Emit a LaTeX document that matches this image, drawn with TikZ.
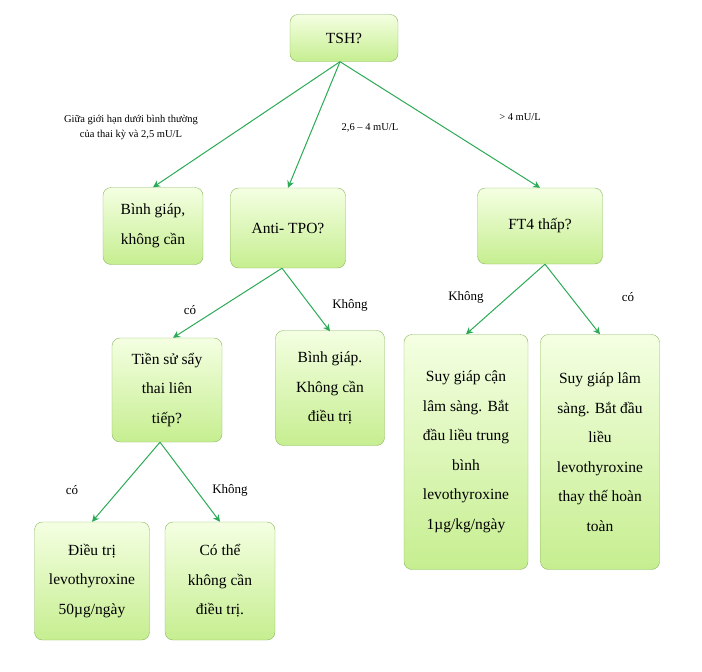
\documentclass[tikz,border=0pt]{standalone}
\usepackage{fontspec}
\setmainfont{Liberation Serif}
\usetikzlibrary{arrows.meta}
\definecolor{boxline}{HTML}{8CB860}
\definecolor{boxtop}{HTML}{F4FFE2}
\definecolor{boxbot}{HTML}{C6EE90}
\definecolor{arrowgreen}{HTML}{2BAA55}
\begin{document}
\begin{tikzpicture}[x=1pt,y=-1pt,
  box/.style={draw=boxline,rounded corners=8pt,top color=boxtop,bottom color=boxbot,
    align=center,font=\fontsize{15.5}{29.5}\selectfont,inner sep=0pt},
  lbl/.style={font=\fontsize{10.5}{15}\selectfont,align=center},
  flow/.style={draw=arrowgreen,line width=1pt,-{Stealth[length=7pt,width=7pt]}}]
\useasboundingbox (0,0) rectangle (702,672);
\node[box,minimum width=108pt,minimum height=47pt] (tsh) at (344,38) {TSH?};
\node[box,minimum width=100pt,minimum height=77pt] (euthA) at (153,226) {Bình giáp,\\không cần};
\node[box,minimum width=115pt,minimum height=80pt] (tpo) at (288,228) {Anti- TPO?};
\node[box,minimum width=125pt,minimum height=76pt] (ft4) at (540,226) {FT4 thấp?};
\node[box,minimum width=110pt,minimum height=104pt] (hist) at (167,390) {Tiền sử sẩy\\thai liên\\tiếp?};
\node[box,minimum width=109pt,minimum height=115pt] (euthB) at (330,388) {Bình giáp.\\Không cần\\điều trị};
\node[box,minimum width=124pt,minimum height=235pt] (subc) at (466,452) {Suy giáp cận\\lâm sàng. Bắt\\đầu liều trung\\bình\\levothyroxine\\1µg/kg/ngày};
\node[box,minimum width=119pt,minimum height=235pt] (subl) at (600,452) {Suy giáp lâm\\sàng. Bắt đầu\\liều\\levothyroxine\\thay thế hoàn\\toàn};
\node[box,minimum width=115pt,minimum height=118pt] (treat) at (92,581) {Điều trị\\levothyroxine\\50µg/ngày};
\node[box,minimum width=110pt,minimum height=118pt] (maybe) at (220,581) {Có thể\\không cần\\điều trị.};
% branch labels
\node[lbl] (lowlbl) at (131,127) {Giữa giới hạn dưới bình thường\\của thai kỳ và 2,5 mU/L};
\node[lbl] (midlbl) at (370,128) {2,6 – 4 mU/L};
\node[lbl] (highlbl) at (520,117) {> 4 mU/L};
\node[lbl,font=\fontsize{13}{14}\selectfont] (yesA) at (190,310) {có};
\node[lbl,font=\fontsize{13}{14}\selectfont] (noA) at (350,305) {Không};
\node[lbl,font=\fontsize{13}{14}\selectfont] (noB) at (466,297) {Không};
\node[lbl,font=\fontsize{13}{14}\selectfont] (yesB) at (628,297) {có};
\node[lbl,font=\fontsize{13}{14}\selectfont] (yesC) at (72,490) {có};
\node[lbl,font=\fontsize{13}{14}\selectfont] (noC) at (230,490) {Không};
% connectors
\draw[flow] (tsh.south) ++(-4,0) coordinate (tshout) -- (euthA.north);
\draw[flow] (tshout) -- (tpo.north);
\draw[flow] (tshout) -- (ft4.north);
\draw[flow] (tpo.south) ++(-6,0) coordinate (tpoout) -- ([xshift=6pt]hist.north);
\draw[flow] (tpoout) -- ([yshift=-1pt]euthB.north);
\draw[flow] (ft4.south) ++(5,0) coordinate (ft4out) -- (subc.north);
\draw[flow] (ft4out) -- (subl.north);
\draw[flow] (hist.south) ++(-7,0) coordinate (histout) -- (treat.north);
\draw[flow] (histout) -- (maybe.north);
\end{tikzpicture}
\end{document}
